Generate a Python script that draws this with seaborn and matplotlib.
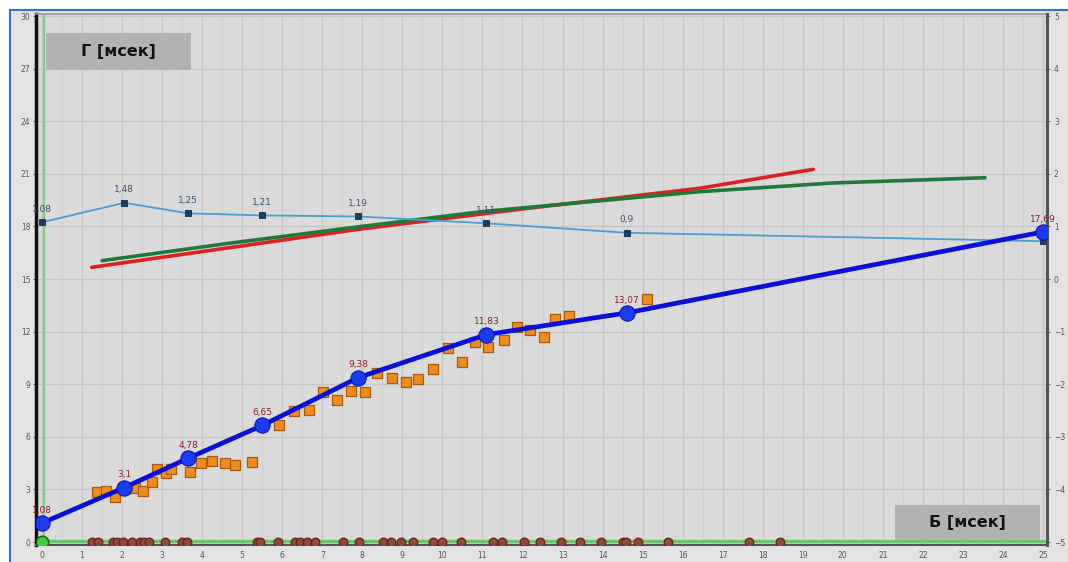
import matplotlib
matplotlib.use("Agg")
import matplotlib.pyplot as plt
import matplotlib.patches as mpatches
import pandas as pd
import seaborn as sns

# main curve (left axis)
main_x = [0, 2.05, 3.65, 5.5, 7.9, 11.1, 14.6, 25]
main_y = [1.08, 3.1, 4.78, 6.65, 9.38, 11.83, 13.07, 17.69]

# thin curve (right axis)
thin_y = [1.08, 1.45, 1.25, 1.21, 1.19, 1.06, 0.88, 0.72]
thin_labels = ["1,08", "1,48", "1,25", "1,21", "1,19", "1,11", "0,9", ""]

# measured points
sq_x = [1.37, 1.60, 1.82, 2.32, 2.52, 2.74, 2.86, 3.10, 3.21, 3.70, 3.96, 4.24,
        4.57, 4.82, 5.24, 5.92, 6.29, 6.67, 7.01, 7.36, 7.71, 8.07, 8.37, 8.73,
        9.08, 9.40, 9.76, 10.15, 10.48, 10.81, 11.15, 11.54, 11.86, 12.19,
        12.54, 12.81, 13.17, 15.12]
sq_y = [2.87, 2.93, 2.57, 3.08, 2.91, 3.44, 4.16, 3.95, 4.16, 4.01, 4.52, 4.64,
        4.52, 4.39, 4.58, 6.67, 7.49, 7.53, 8.57, 8.10, 8.63, 8.57, 9.64, 9.36,
        9.13, 9.28, 9.85, 11.05, 10.29, 11.41, 11.14, 11.52, 12.28, 12.09,
        11.68, 12.70, 12.89, 13.86]

# events on the baseline
ev_x = [1.24, 1.41, 1.77, 1.88, 2.03, 2.24, 2.45, 2.55, 2.68, 3.07, 3.49, 3.61,
        5.36, 5.44, 5.90, 6.32, 6.44, 6.61, 6.82, 7.51, 7.92, 8.51, 8.72, 8.97,
        9.27, 9.76, 9.98, 10.46, 11.26, 11.50, 12.05, 12.44, 12.95, 13.44,
        13.96, 14.50, 14.59, 14.88, 15.64, 17.66, 18.43]

# trend lines
red_x = [1.24, 7.94, 12.0, 16.43, 19.26]
red_y = [15.67, 17.85, 19.0, 20.18, 21.26]
green_x = [1.5, 4.7, 7.94, 11.0, 16.4, 19.75, 23.55]
green_y = [16.05, 17.05, 17.99, 18.85, 19.98, 20.48, 20.78]

df_main = pd.DataFrame({"x": main_x, "y": main_y})
df_thin = pd.DataFrame({"x": main_x, "y": thin_y})
df_sq = pd.DataFrame({"x": sq_x, "y": sq_y})
df_ev = pd.DataFrame({"x": ev_x, "y": [0] * len(ev_x)})

sns.set_style("whitegrid")
plt.rcParams["font.family"] = ["DejaVu Sans"]

fig = plt.figure(figsize=(10.68, 5.62), dpi=100)
fig.patch.set_facecolor("white")
frame = mpatches.Rectangle((10 / 1068, -0.01), 1.0, 1 - 10 / 562 + 0.01,
                           transform=fig.transFigure, facecolor="#e3e3e3",
                           edgecolor="#3a6fd0", linewidth=1.5, zorder=-10)
fig.patches.append(frame)

ax = fig.add_axes([36 / 1068, 1 - 545 / 562, 1011 / 1068, 531 / 562])
ax.set_facecolor("#dadada")
ax.set_xlim(-0.15, 25.1)
ax.set_ylim(-0.17, 30.12)
ax.set_xticks(range(0, 26))
ax.set_xticks([i + 0.5 for i in range(25)], minor=True)
ax.set_yticks(range(0, 31, 3))
ax.grid(which="major", color="#c6c6c6", linewidth=1.0)
ax.grid(which="minor", axis="x", color="#d0d0d0", linewidth=0.8)
ax.tick_params(labelsize=5.5, colors="#555555", length=2, width=0.6, pad=2)
ax.tick_params(which="minor", length=0)
ax.spines["top"].set_color("#9a9a9a")
ax.spines["top"].set_linewidth(1.2)
ax.spines["left"].set_color("#111111")
ax.spines["left"].set_linewidth(2.5)
ax.spines["right"].set_visible(False)
ax.spines["bottom"].set_color("#555555")
ax.spines["bottom"].set_linewidth(1.5)
ax.set_xlabel("")
ax.set_ylabel("")

# green frame lines
ax.axvline(0.06, color="#7fd07f", linewidth=1.5, zorder=2)
ax.axhline(0.05, color="#6cc46c", linewidth=2.5, zorder=2)

# trend lines
sns.lineplot(x=red_x, y=red_y, ax=ax, color="#e02020", linewidth=2.6, zorder=3)
sns.lineplot(x=green_x, y=green_y, ax=ax, color="#1f7a3a", linewidth=2.6, zorder=3)

# right axis with thin curve
ax2 = ax.twinx()
ax2.set_ylim(-0.17 / 3 - 5, 30.12 / 3 - 5)
ax2.set_yticks(range(-5, 6))
ax2.grid(False)
ax2.tick_params(labelsize=5.5, colors="#555555", length=2, width=0.6, pad=3)
for s in ["left", "top", "bottom"]:
    ax2.spines[s].set_visible(False)
ax2.spines["right"].set_color("#555555")
ax2.spines["right"].set_linewidth(2.2)
sns.lineplot(data=df_thin, x="x", y="y", ax=ax2, color="#4b9fd2", linewidth=1.3,
             marker="s", markersize=4, markerfacecolor="#1c3d5c",
             markeredgecolor="#1c3d5c", zorder=3)
for xv, yv, lab in zip(main_x, thin_y, thin_labels):
    if lab:
        ax2.annotate(lab, (xv, yv), xytext=(0, 6), textcoords="offset points",
                     ha="center", va="bottom", fontsize=6.5, color="#3a5570")
ax2.set_xlabel("")
ax2.set_ylabel("")

# points and main curve on a top layer, left units
ax3 = ax.twinx()
ax3.set_ylim(ax.get_ylim())
ax3.axis("off")
sns.scatterplot(data=df_sq, x="x", y="y", ax=ax3, marker="s", s=48,
                color="#f08c1c", edgecolor="#a85a10", linewidth=0.9, zorder=4)
sns.lineplot(data=df_main, x="x", y="y", ax=ax3, color="#0a10d8", linewidth=3.4,
             marker="o", markersize=11, markerfacecolor="#1a3cf0",
             markeredgecolor="#0a10b0", zorder=5)
for xv, yv in zip(main_x, main_y):
    ax3.annotate(f"{yv:.2f}".rstrip("0").replace(".", ","), (xv, yv),
                 xytext=(0, 6), textcoords="offset points", ha="center",
                 va="bottom", fontsize=6.5, color="#8a1f2a", zorder=6)
sns.scatterplot(data=df_ev, x="x", y="y", ax=ax3, marker="o", s=40,
                color="#8c4a3a", edgecolor="#6a1a1a", linewidth=0.8, zorder=4)
sns.scatterplot(x=[0], y=[0], ax=ax3, marker="o", s=80, color="#3ed23e",
                edgecolor="#1a6a1a", linewidth=1.2, zorder=6)
ax3.set_xlim(ax.get_xlim())

# axis caption boxes
ax.add_patch(mpatches.Rectangle((0.0099, 0.8945), 0.1434, 0.0695,
                                transform=ax.transAxes, facecolor="#b2b2b2",
                                edgecolor="none", zorder=1))
ax.text(0.0811, 0.9285, "Г [мсек]", transform=ax.transAxes, ha="center",
        va="center", fontsize=11.5, fontweight="bold", color="#111111")
ax3.add_patch(mpatches.Rectangle((0.8497, 0.0094), 0.1434, 0.0659,
                                 transform=ax3.transAxes, facecolor="#b2b2b2",
                                 edgecolor="none", zorder=1))
ax3.text(0.9209, 0.0433, "Б [мсек]", transform=ax3.transAxes, ha="center",
         va="center", fontsize=11.5, fontweight="bold", color="#111111", zorder=7)

fig.savefig("out.png", dpi=100)
